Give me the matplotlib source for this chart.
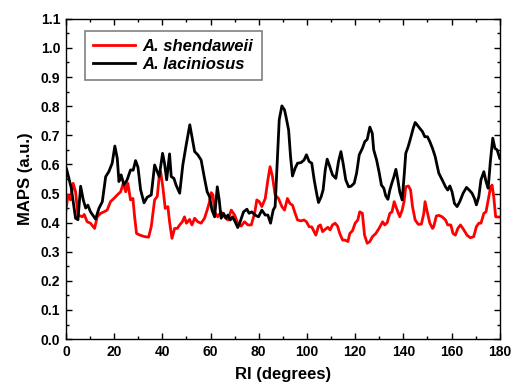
import matplotlib
matplotlib.use("Agg")
import matplotlib.pyplot as plt
from matplotlib.ticker import MultipleLocator

plt.rcParams['font.family'] = ['Liberation Sans', 'DejaVu Sans']

# A. shendaweii (red)
ri_red = [0, 0.9, 1.9, 3.0, 4.0, 5.0, 6.8, 7.6, 8.8, 10.2, 11.9, 13.0, 14.4, 15.8,
          17.1, 18.5, 19.9, 21.3, 22.7, 23.8, 24.8, 25.7, 26.8, 27.8, 28.5, 29.3,
          30.7, 32.6, 34.3, 35.4, 36.8, 37.9, 38.7, 39.3, 40.2, 41.2, 42.3, 43.0,
          44.0, 45.1, 46.2, 47.2, 48.3, 49.2, 50.0, 51.3, 52.3, 53.4, 54.7, 56.1,
          57.5, 58.6, 59.6, 60.3, 61.0, 61.7, 63.0, 64.4, 65.8, 67.2, 68.6, 70.0,
          71.3, 72.7, 74.1, 75.5, 76.9, 78.3, 79.2, 80.2, 81.3, 82.7, 83.8, 84.7,
          85.7, 86.8, 88.2, 89.6, 90.7, 91.9, 92.9, 94.0, 95.1, 96.1, 97.5, 98.8,
          99.8, 100.9, 102.0, 103.0, 103.7, 104.8, 105.6, 106.5, 107.6, 108.7,
          109.6, 110.6, 111.7, 112.7, 113.6, 114.8, 115.8, 117.0, 117.8, 118.9,
          120.0, 121.1, 121.9, 123.0, 123.9, 125.0, 126.1, 127.2, 128.6, 129.9,
          131.4, 132.3, 133.3, 134.4, 135.3, 136.2, 136.9, 137.7, 138.5, 139.5,
          140.3, 141.0, 142.1, 143.0, 143.8, 144.9, 146.2, 147.5, 148.5, 149.0,
          149.9, 151.0, 152.1, 152.6, 153.7, 154.7, 156.1, 157.5, 158.4, 159.7,
          160.6, 161.6, 162.6, 163.7, 165.1, 166.4, 167.8, 169.2, 170.3, 171.3,
          172.2, 173.4, 174.3, 175.2, 176.1, 176.8, 177.5, 178.3, 180]
red = [0.443, 0.495, 0.478, 0.535, 0.506, 0.426, 0.420, 0.428, 0.403, 0.398, 0.380,
       0.420, 0.432, 0.437, 0.443, 0.472, 0.483, 0.495, 0.506, 0.535, 0.506, 0.535,
       0.478, 0.483, 0.420, 0.363, 0.357, 0.352, 0.350, 0.386, 0.478, 0.490, 0.558,
       0.575, 0.523, 0.449, 0.455, 0.403, 0.346, 0.380, 0.380, 0.392, 0.403, 0.420,
       0.398, 0.411, 0.392, 0.415, 0.403, 0.398, 0.415, 0.443, 0.472, 0.503, 0.495,
       0.437, 0.420, 0.437, 0.420, 0.409, 0.443, 0.426, 0.398, 0.388, 0.403, 0.392,
       0.392, 0.432, 0.478, 0.472, 0.455, 0.483, 0.547, 0.592, 0.558, 0.495, 0.483,
       0.455, 0.443, 0.483, 0.466, 0.460, 0.432, 0.409, 0.406, 0.409, 0.403, 0.386,
       0.385, 0.369, 0.357, 0.388, 0.392, 0.369, 0.377, 0.384, 0.375, 0.392, 0.398,
       0.388, 0.363, 0.340, 0.340, 0.335, 0.363, 0.372, 0.398, 0.409, 0.437, 0.432,
       0.357, 0.329, 0.335, 0.352, 0.363, 0.380, 0.403, 0.392, 0.400, 0.432, 0.437,
       0.472, 0.455, 0.437, 0.420, 0.443, 0.472, 0.523, 0.526, 0.512, 0.455, 0.409,
       0.394, 0.395, 0.432, 0.472, 0.437, 0.398, 0.380, 0.386, 0.423, 0.425, 0.420,
       0.409, 0.392, 0.392, 0.363, 0.357, 0.380, 0.392, 0.375, 0.357, 0.348, 0.352,
       0.386, 0.398, 0.398, 0.432, 0.437, 0.478, 0.518, 0.529, 0.489, 0.420, 0.419]

# A. laciniosus (black)
ri_black = [0, 0.3, 2.2, 4.0, 5.0, 6.1, 7.2, 8.2, 9.1, 10.2, 12.3, 13.7, 15.1, 16.5,
            17.8, 19.2, 20.3, 21.3, 22.0, 22.9, 24.1, 25.4, 26.8, 27.9, 28.9, 29.9,
            31.0, 32.4, 33.7, 35.4, 36.8, 37.9, 38.7, 40.1, 40.9, 41.8, 43.0, 43.7,
            44.8, 45.7, 47.2, 48.5, 49.9, 51.4, 52.3, 53.4, 54.7, 56.1, 57.5, 58.6,
            59.6, 60.6, 61.7, 62.8, 63.6, 64.4, 65.4, 66.4, 67.2, 68.2, 69.1, 70.2,
            71.3, 72.3, 73.7, 75.1, 76.0, 77.1, 78.5, 79.9, 81.3, 82.7, 83.8, 84.9,
            86.0, 86.8, 87.6, 88.5, 89.6, 90.7, 91.4, 92.4, 93.2, 94.0, 95.1, 96.1,
            97.5, 98.8, 99.8, 100.9, 102.0, 103.0, 104.0, 104.8, 105.9, 106.7, 107.6,
            108.4, 109.5, 110.6, 112.0, 113.1, 114.1, 115.0, 116.1, 117.3, 118.3,
            119.6, 120.6, 121.7, 123.0, 124.0, 125.0, 126.1, 127.1, 127.7, 128.9,
            129.9, 130.9, 131.9, 132.7, 133.6, 134.4, 135.2, 136.1, 136.9, 137.7,
            138.5, 139.5, 140.3, 141.0, 142.0, 143.0, 144.1, 144.9, 145.7, 146.8,
            147.9, 148.9, 150.0, 151.0, 152.1, 153.2, 154.7, 156.1, 157.5, 158.4,
            159.3, 160.2, 161.2, 162.3, 163.4, 164.8, 166.2, 167.3, 168.5, 169.5,
            170.3, 171.3, 172.2, 173.4, 174.3, 175.2, 176.1, 177.1, 178.0, 178.9, 180]
black = [0.590, 0.583, 0.520, 0.415, 0.410, 0.525, 0.478, 0.450, 0.460, 0.437, 0.412,
         0.449, 0.472, 0.558, 0.575, 0.604, 0.663, 0.621, 0.541, 0.564, 0.529, 0.547,
         0.581, 0.580, 0.613, 0.590, 0.512, 0.468, 0.487, 0.495, 0.598, 0.575, 0.558,
         0.638, 0.604, 0.547, 0.636, 0.558, 0.552, 0.529, 0.501, 0.598, 0.667, 0.736,
         0.695, 0.644, 0.633, 0.615, 0.552, 0.506, 0.489, 0.443, 0.420, 0.523, 0.478,
         0.415, 0.432, 0.415, 0.426, 0.409, 0.420, 0.403, 0.383, 0.403, 0.437, 0.446,
         0.432, 0.437, 0.426, 0.420, 0.443, 0.426, 0.426, 0.398, 0.443, 0.455, 0.592,
         0.753, 0.801, 0.787, 0.760, 0.718, 0.627, 0.560, 0.587, 0.604, 0.606, 0.615,
         0.633, 0.610, 0.604, 0.547, 0.501, 0.469, 0.489, 0.512, 0.581, 0.618, 0.592,
         0.564, 0.552, 0.610, 0.644, 0.604, 0.547, 0.523, 0.525, 0.535, 0.570, 0.633,
         0.655, 0.678, 0.686, 0.728, 0.707, 0.650, 0.615, 0.575, 0.529, 0.518, 0.492,
         0.480, 0.512, 0.535, 0.558, 0.583, 0.547, 0.506, 0.478, 0.558, 0.638, 0.661,
         0.690, 0.724, 0.744, 0.736, 0.724, 0.713, 0.695, 0.695, 0.678, 0.655, 0.627,
         0.570, 0.547, 0.523, 0.512, 0.526, 0.506, 0.466, 0.455, 0.472, 0.501, 0.521,
         0.512, 0.501, 0.483, 0.461, 0.489, 0.547, 0.575, 0.541, 0.518, 0.610, 0.690,
         0.655, 0.650, 0.621]

fig = plt.figure(figsize=(5.11, 3.92), dpi=100)
ax = fig.add_axes([0.129, 0.135, 0.849, 0.817])

ax.plot(ri_red, red, color='#ff0000', lw=2.0, label='A. shendaweii')
ax.plot(ri_black, black, color='black', lw=2.0, label='A. laciniosus')

ax.set_xlim(0, 180)
ax.set_ylim(0, 1.1)
ax.xaxis.set_major_locator(MultipleLocator(20))
ax.xaxis.set_minor_locator(MultipleLocator(10))
ax.yaxis.set_major_locator(MultipleLocator(0.1))
ax.yaxis.set_minor_locator(MultipleLocator(0.05))
ax.yaxis.set_major_formatter(plt.FormatStrFormatter('%.1f'))
ax.tick_params(which='both', direction='in', top=True, right=True, width=1)
ax.tick_params(which='major', length=4, labelsize=10, pad=4)
ax.tick_params(which='minor', length=2.5)
for lbl in ax.get_xticklabels() + ax.get_yticklabels():
    lbl.set_fontweight('bold')
for s in ax.spines.values():
    s.set_linewidth(1)

ax.set_xlabel('RI (degrees)', fontsize=12, fontweight='bold', labelpad=6)
ax.set_ylabel('MAPS (a.u.)', fontsize=12, fontweight='bold', labelpad=6)

leg = ax.legend(loc='upper left', bbox_to_anchor=(0.044, 0.9625), borderaxespad=0,
                fancybox=False, framealpha=1, edgecolor='#808080', handlelength=2.5,
                handletextpad=0.45, prop={'style': 'italic', 'weight': 'bold', 'size': 12},
                borderpad=0.5, labelspacing=0.15)
leg.get_frame().set_linewidth(1.2)

fig.savefig('out.png', dpi=100)
